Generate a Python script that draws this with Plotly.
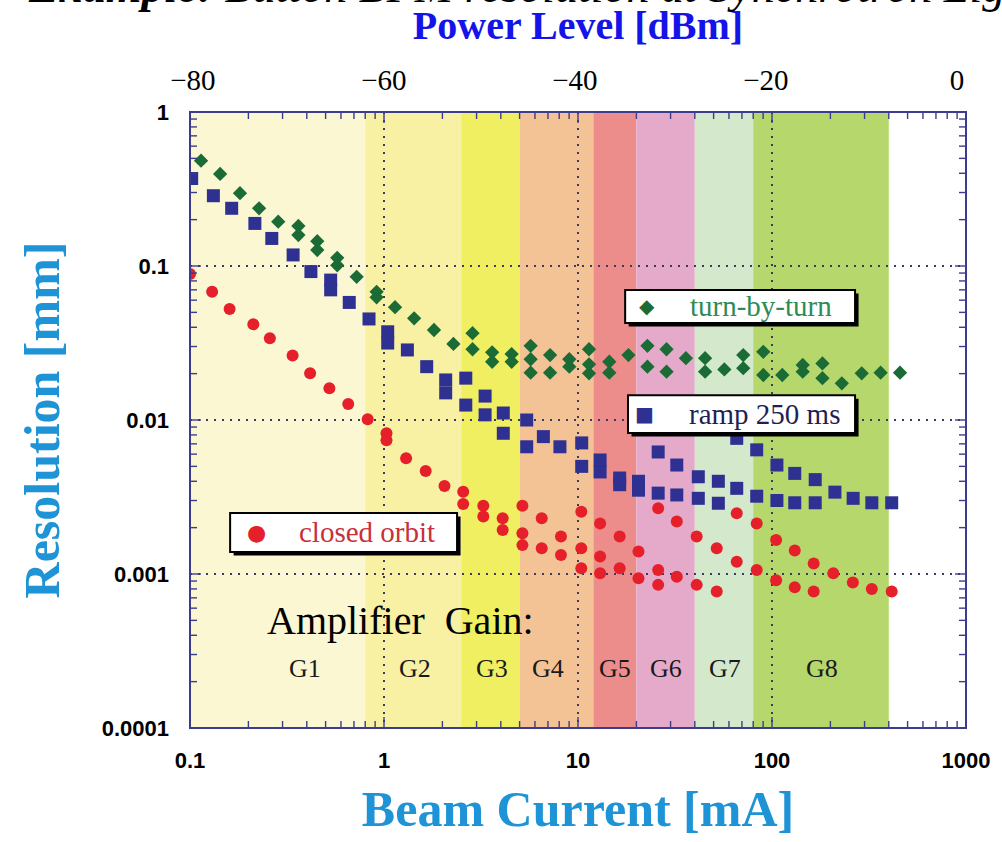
import numpy as np
import plotly.graph_objects as go

# ---------------- data ----------------
tbt_current = [0.114, 0.143, 0.181, 0.227, 0.285, 0.362, 0.362, 0.453, 0.453, 0.574, 0.574,
               0.723, 0.916, 0.916, 1.14, 1.43, 1.81, 2.28, 2.86, 2.86, 3.61, 3.61, 4.55, 4.55,
               5.70, 5.70, 5.70, 7.18, 7.18, 9.02, 9.02, 11.4, 11.4, 11.4, 14.5, 14.5, 18.2,
               22.8, 22.8, 28.6, 28.6, 36.0, 45.2, 45.2, 56.8, 71.1, 71.1, 90.2, 90.2, 113,
               144, 144, 182, 182, 229, 290, 363, 457]
tbt_resolution = [0.483, 0.396, 0.297, 0.237, 0.194, 0.182, 0.159, 0.145, 0.127, 0.113, 0.101,
                  0.085, 0.068, 0.0626, 0.054, 0.0457, 0.0384, 0.0312, 0.0366, 0.0288, 0.0275, 0.0239,
                  0.0268, 0.0239, 0.0303, 0.0248, 0.0203, 0.0264, 0.0203, 0.0248, 0.0222, 0.0288,
                  0.0230, 0.0201, 0.0239, 0.0203, 0.0264, 0.0303, 0.0222, 0.0288, 0.0206, 0.0252,
                  0.0252, 0.0206, 0.0213, 0.0264, 0.0217, 0.0277, 0.0196, 0.0196, 0.0228, 0.0206,
                  0.0233, 0.0187, 0.0173, 0.0201, 0.0203, 0.0203]

ramp_current = [0.102, 0.132, 0.164, 0.216, 0.264, 0.340, 0.420, 0.531, 0.531, 0.662, 0.837,
                1.045, 1.045, 1.32, 1.66, 2.08, 2.08, 2.64, 2.64, 3.32, 3.32, 4.12, 4.12, 5.44,
                5.44, 6.63, 8.07, 10.45, 10.45, 13.0, 13.0, 16.4, 16.4, 20.5, 20.5, 25.9, 25.9,
                32.3, 32.3, 41.7, 41.7, 52.9, 52.9, 65.8, 65.8, 83.4, 83.4, 106, 106, 131, 131,
                167, 167, 211, 262, 327, 414]
ramp_resolution = [0.37, 0.286, 0.237, 0.189, 0.151, 0.118, 0.092, 0.081, 0.070, 0.058, 0.0453,
                   0.0374, 0.0316, 0.0285, 0.0222, 0.0182, 0.0150, 0.0187, 0.0125, 0.0143, 0.0108,
                   0.0111, 0.0082, 0.0100, 0.0067, 0.0078, 0.0067, 0.0071, 0.0050, 0.0055, 0.0046,
                   0.0042, 0.0038, 0.0040, 0.0035, 0.0062, 0.00335, 0.0051, 0.00326, 0.00428,
                   0.0031, 0.0040, 0.00288, 0.0076, 0.0036, 0.0064, 0.0032, 0.0051, 0.0030,
                   0.0045, 0.0029, 0.0041, 0.0029, 0.0034, 0.0031, 0.0029, 0.0029]

co_current = [0.1, 0.130, 0.160, 0.212, 0.258, 0.338, 0.416, 0.523, 0.654, 0.824, 1.03, 1.03,
              1.30, 1.64, 2.05, 2.56, 2.56, 3.25, 3.25, 4.09, 4.09, 5.17, 5.17, 5.17, 6.50, 6.50,
              8.17, 8.17, 10.4, 10.4, 10.4, 13.0, 13.0, 13.0, 16.4, 16.4, 20.5, 20.5, 25.9, 25.9,
              25.9, 32.3, 32.3, 40.9, 40.9, 51.9, 51.9, 65.8, 65.8, 83.4, 83.4, 105, 105, 131,
              131, 164, 164, 207, 261, 327, 414]
co_resolution = [0.0887, 0.068, 0.0526, 0.0418, 0.034, 0.0262, 0.0201, 0.0161, 0.0127, 0.0101,
                 0.0082, 0.0074, 0.00564, 0.00467, 0.00373, 0.00342, 0.00285, 0.00277, 0.00236,
                 0.0023, 0.00193, 0.00277, 0.00184, 0.00154, 0.0023, 0.00147, 0.00175, 0.00133,
                 0.00254, 0.00147, 0.00109, 0.00213, 0.00130, 0.00101, 0.00175, 0.00109, 0.0014,
                 0.00094, 0.00267, 0.00106, 0.00085, 0.00219, 0.00096, 0.00175, 0.00085, 0.00147,
                 0.00077, 0.00248, 0.0012, 0.00213, 0.00106, 0.00166, 0.00091, 0.00142, 0.00082,
                 0.00117, 0.00077, 0.00101, 0.00088, 0.0008, 0.00077]

gain_edges = [0.1, 0.8, 2.5, 5, 12, 20, 40, 80, 400]
gain_labels = ["G1", "G2", "G3", "G4", "G5", "G6", "G7", "G8"]
gain_label_current = [0.39, 1.44, 3.6, 7.0, 15.5, 28.5, 57, 181]

x_tickvals = [0.1, 1, 10, 100, 1000]
x_ticktext = ["0.1", "1", "10", "100", "1000"]
y_tickvals = [0.0001, 0.001, 0.01, 0.1, 1]
y_ticktext = ["0.0001", "0.001", "0.01", "0.1", "1"]
power_tickvals = [-80, -60, -40, -20, 0]
power_ticktext = ["\u221280", "\u221260", "\u221240", "\u221220", "0"]

# ---------------- styles ----------------
W, H = 1002, 842
L, R, T, B = 190, 36, 112, 114
PW, PH = W - L - R, H - T - B

band_colors = ["#FAF7D2", "#F8F0A2", "#F0EF62", "#F4C395", "#EC8D8B", "#E5AACA", "#D4E8CC", "#B6D76C"]
NAVY = "#3C3C8E"
GREEN = "#1B6B36"
BLUE = "#2E3192"
RED = "#E5202A"
TITLE_BLUE = "#1E94D6"
GRID = "#3A3A60"
SERIF = "Liberation Serif"
SANS = "Liberation Sans"
MAJOR_LEN, MINOR_LEN = 11, 7


def px_to_paper_y(py):
    return (T + PH - py) / PH


def px_to_paper_x(px):
    return (px - L) / PW


fig = go.Figure()

fig.add_trace(go.Scatter(x=tbt_current, y=tbt_resolution, mode="markers", name="turn-by-turn",
                         marker=dict(symbol="diamond", size=11, color=GREEN)))
fig.add_trace(go.Scatter(x=ramp_current, y=ramp_resolution, mode="markers", name="ramp 250 ms",
                         marker=dict(symbol="square", size=13, color=BLUE)))
fig.add_trace(go.Scatter(x=co_current, y=co_resolution, mode="markers", name="closed orbit",
                         marker=dict(symbol="circle", size=12, color=RED)))
# empty trace to activate the top (power) axis
fig.add_trace(go.Scatter(x=[], y=[], xaxis="x2", yaxis="y", showlegend=False, hoverinfo="skip"))

shapes = []
for i, c in enumerate(band_colors):
    shapes.append(dict(type="rect", xref="x", yref="y", x0=gain_edges[i], x1=gain_edges[i + 1],
                       y0=0.0001, y1=1, fillcolor=c, line=dict(width=0), layer="below"))

# inside log ticks on all four edges (major at decades, minor at 2..9)
def log_ticks(decades):
    out = []
    for d in decades[:-1]:
        out.append((d, True))
        for m in range(2, 10):
            out.append((d * m, False))
    out.append((decades[-1], True))
    return out


tick_line = dict(color=NAVY, width=1.4)
for v, major in log_ticks(x_tickvals):
    ln = (MAJOR_LEN if major else MINOR_LEN) / PH
    shapes.append(dict(type="line", xref="x", yref="paper", x0=v, x1=v, y0=0, y1=ln, line=tick_line, layer="above"))
    shapes.append(dict(type="line", xref="x", yref="paper", x0=v, x1=v, y0=1 - ln, y1=1, line=tick_line, layer="above"))
for v, major in log_ticks(y_tickvals):
    ln = (MAJOR_LEN if major else MINOR_LEN) / PW
    shapes.append(dict(type="line", xref="paper", yref="y", x0=0, x1=ln, y0=v, y1=v, line=tick_line, layer="above"))
    shapes.append(dict(type="line", xref="paper", yref="y", x0=1 - ln, x1=1, y0=v, y1=v, line=tick_line, layer="above"))

# plot frame
shapes.append(dict(type="rect", xref="paper", yref="paper", x0=0, x1=1, y0=0, y1=1,
                   line=dict(color=NAVY, width=2), fillcolor="rgba(0,0,0,0)", layer="above"))

# legend boxes (drawn inside the plot as in the reference)
legend_boxes = [
    dict(x0=17.5, x1=268, y0=0.0427, y1=0.0698, glyph="\u25C6", gcolor=GREEN, gsize=20, gx=22.7,
         text="turn-by-turn", tcolor="#2E8B57", tx=36.9),
    dict(x0=18.1, x1=268, y0=0.00824, y1=0.0145, glyph="\u25A0", gcolor=BLUE, gsize=20, gx=22.0,
         text="ramp 250 ms", tcolor="#1F1F55", tx=36.5),
    dict(x0=0.161, x1=2.38, y0=0.00139, y1=0.00249, glyph="\u25CF", gcolor=RED, gsize=22, gx=0.221,
         text="closed orbit", tcolor="#C8303A", tx=0.356),
]
dx = 10 ** (3.5 / (PW / 4))
dy = 10 ** (3.5 / (PH / 4))
annotations = []
for b in legend_boxes:
    shapes.append(dict(type="rect", xref="x", yref="y", x0=b["x0"] * dx, x1=b["x1"] * dx,
                       y0=b["y0"] / dy, y1=b["y1"] / dy, fillcolor="black", line=dict(width=0),
                       layer="above"))
    shapes.append(dict(type="rect", xref="x", yref="y", x0=b["x0"], x1=b["x1"], y0=b["y0"], y1=b["y1"],
                       fillcolor="white", line=dict(width=2, color="black"), layer="above"))
    yc = np.log10(np.sqrt(b["y0"] * b["y1"]))
    annotations.append(dict(xref="x", yref="y", x=np.log10(b["gx"]), y=yc, text=b["glyph"],
                            showarrow=False, font=dict(family="DejaVu Sans", size=b["gsize"], color=b["gcolor"]),
                            xanchor="center", yanchor="middle"))
    annotations.append(dict(xref="x", yref="y", x=np.log10(b["tx"]), y=yc, text=b["text"],
                            showarrow=False, font=dict(family=SERIF, size=29, color=b["tcolor"]),
                            xanchor="left", yanchor="middle"))

# gain labels
for lab, xc in zip(gain_labels, gain_label_current):
    annotations.append(dict(xref="x", yref="y", x=np.log10(xc), y=np.log10(0.000245), text=lab,
                            showarrow=False, font=dict(family=SERIF, size=26, color="#1A1A1A"),
                            xanchor="center", yanchor="middle"))
annotations.append(dict(xref="x", yref="y", x=np.log10(1.22), y=np.log10(0.0005), text="Amplifier\u00a0 Gain:",
                        showarrow=False, font=dict(family=SERIF, size=40, color="black"),
                        xanchor="center", yanchor="middle"))

# page title (cut off at the top edge in the reference)
annotations.append(dict(xref="paper", yref="paper", x=px_to_paper_x(26), y=px_to_paper_y(14),
                        text="<b>Example:</b> Button BPM resolution at Synchrotron Light Source",
                        showarrow=False, xanchor="left", yanchor="bottom",
                        font=dict(family=SERIF, size=46, color="black", style="italic")))

axis_common = dict(ticks="", showline=False, mirror=False, zeroline=False,
                   showgrid=True, gridcolor=GRID, gridwidth=1.6, griddash="2px,6px")

fig.update_layout(
    width=W, height=H,
    margin=dict(l=L, r=R, t=T, b=B, pad=0),
    paper_bgcolor="white", plot_bgcolor="white",
    showlegend=False,
    shapes=shapes, annotations=annotations,
    xaxis=dict(type="log", range=[-1, 3], tickvals=x_tickvals, ticktext=x_ticktext,
               tickfont=dict(family=SANS, size=22, color="black", weight="bold"),
               ticklabelstandoff=17,
               title=dict(text="Beam Current [mA]", standoff=18,
                          font=dict(family=SERIF, size=50, color=TITLE_BLUE, weight="bold")),
               **axis_common),
    yaxis=dict(type="log", range=[-4, 0], tickvals=y_tickvals, ticktext=y_ticktext,
               tickfont=dict(family=SANS, size=22, color="black", weight="bold"),
               ticklabelstandoff=20,
               title=dict(text="Resolution [mm]", standoff=26,
                          font=dict(family=SERIF, size=50, color=TITLE_BLUE, weight="bold")),
               **axis_common),
    xaxis2=dict(overlaying="x", side="top", anchor="y", range=[-80.3, 0.95],
                tickvals=power_tickvals, ticktext=power_ticktext, ticks="", showline=False,
                showgrid=False, zeroline=False, ticklabelstandoff=15,
                tickfont=dict(family=SERIF, size=29, color="black"),
                title=dict(text="Power Level [dBm]", standoff=12,
                           font=dict(family=SERIF, size=40, color="#1414E8", weight="bold"))),
)

fig.write_html("out.html")
